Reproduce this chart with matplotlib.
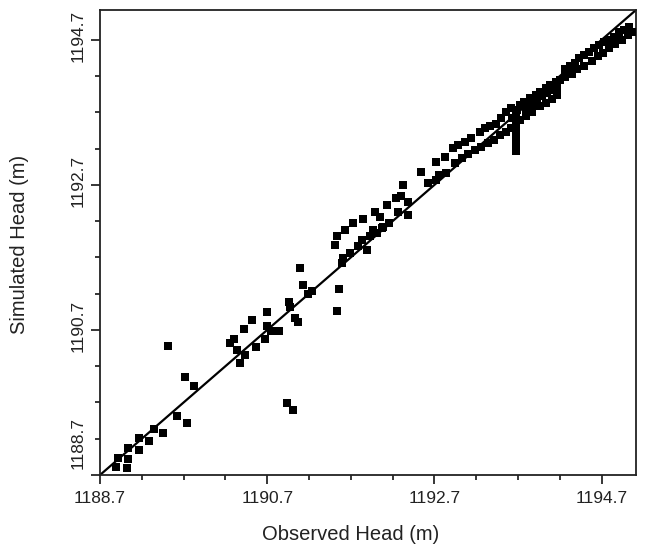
import matplotlib
matplotlib.use("Agg")
import matplotlib.pyplot as plt
import matplotlib.transforms as mtransforms
import numpy as np

plt.rcParams['font.family'] = ['Liberation Sans', 'DejaVu Sans']

# Observed (x) and simulated (y) heads, metres
observed = [
    1188.89, 1189.02, 1188.91, 1189.04, 1189.04, 1189.17, 1189.17, 1189.29,
    1189.35, 1189.45, 1189.62, 1189.74, 1189.51, 1189.72, 1189.83,
    1190.26, 1190.30, 1190.34, 1190.42, 1190.38, 1190.44, 1190.52, 1190.56,
    1190.67, 1190.70, 1190.70, 1190.75, 1190.84, 1190.94, 1191.01,
    1190.96, 1190.97, 1191.03, 1191.07, 1191.09, 1191.13, 1191.19, 1191.24,
    1191.56, 1191.54,
    1191.59, 1191.61, 1191.69, 1191.79, 1191.89, 1191.83, 1191.93, 1191.97,
    1192.01, 1192.08, 1192.16, 1191.51, 1191.53, 1191.63, 1191.73, 1191.85,
    1191.99, 1192.05, 1192.07, 1192.13, 1192.24, 1192.30, 1192.38, 1192.32,
    1192.26, 1192.38, 1192.54, 1192.62, 1192.72, 1192.76, 1192.84, 1192.72,
    1192.82, 1192.92, 1192.94, 1192.98,
    1193.06, 1193.14, 1193.24, 1193.30, 1193.36, 1193.43, 1193.50, 1193.56, 1193.62,
    1193.03, 1193.10, 1193.18, 1193.26, 1193.34, 1193.41, 1193.48, 1193.55, 1193.61,
    1193.68, 1193.68, 1193.68, 1193.68, 1193.68, 1193.68, 1193.68, 1193.68,
    1193.63, 1193.69, 1193.72, 1193.77, 1193.79, 1193.84, 1193.87, 1193.91,
    1193.96, 1193.93, 1193.99, 1194.03, 1194.08, 1194.05, 1194.11, 1194.15,
    1194.20, 1194.17, 1193.72, 1193.80, 1193.87, 1193.96, 1194.03, 1194.10, 1194.16,
    1194.26, 1194.32, 1194.38, 1194.43, 1194.49, 1194.55, 1194.61, 1194.67,
    1194.73, 1194.79, 1194.85, 1194.91, 1194.97, 1195.03,
    1194.26, 1194.34, 1194.41, 1194.49, 1194.58, 1194.65, 1194.72, 1194.79,
    1194.86, 1194.94, 1195.01, 1195.06,
]
simulated = [
    1188.81, 1188.80, 1188.93, 1188.92, 1189.07, 1189.05, 1189.21, 1189.17,
    1189.33, 1189.28, 1189.52, 1189.42, 1190.48, 1190.05, 1189.93,
    1190.52, 1190.58, 1190.43, 1190.71, 1190.25, 1190.35, 1190.83, 1190.47,
    1190.58, 1190.95, 1190.76, 1190.69, 1190.68, 1189.69, 1189.59,
    1191.09, 1191.02, 1190.86, 1190.81, 1191.55, 1191.32, 1191.20, 1191.23,
    1191.27, 1190.96,
    1191.62, 1191.69, 1191.76, 1191.85, 1191.80, 1191.94, 1191.99, 1192.08,
    1192.03, 1192.12, 1192.17, 1191.87, 1191.99, 1192.08, 1192.17, 1192.23,
    1192.33, 1192.26, 1192.10, 1192.42, 1192.52, 1192.54, 1192.47, 1192.70,
    1192.33, 1192.29, 1192.88, 1192.72, 1192.77, 1192.84, 1192.86, 1193.02,
    1193.09, 1193.21, 1193.00, 1193.25,
    1193.29, 1193.35, 1193.43, 1193.49, 1193.51, 1193.54, 1193.62, 1193.71, 1193.76,
    1193.07, 1193.13, 1193.18, 1193.22, 1193.28, 1193.32, 1193.38, 1193.43, 1193.49,
    1193.71, 1193.62, 1193.54, 1193.46, 1193.38, 1193.29, 1193.21, 1193.17,
    1193.62, 1193.73, 1193.80, 1193.84, 1193.73, 1193.90, 1193.82, 1193.94,
    1193.98, 1193.87, 1193.93, 1194.04, 1194.08, 1193.97, 1194.01, 1194.12,
    1194.15, 1194.04, 1193.60, 1193.65, 1193.71, 1193.78, 1193.83, 1193.89, 1193.94,
    1194.29, 1194.34, 1194.38, 1194.45, 1194.49, 1194.53, 1194.59, 1194.63,
    1194.67, 1194.70, 1194.74, 1194.80, 1194.84, 1194.87,
    1194.18, 1194.23, 1194.29, 1194.34, 1194.41, 1194.47, 1194.52, 1194.58,
    1194.64, 1194.70, 1194.77, 1194.81,
]

axis_min = 1188.7
axis_max = 1195.11
major_ticks = [1188.7, 1190.7, 1192.7, 1194.7]
minor_ticks = [1189.2, 1189.7, 1190.2, 1191.2, 1191.7, 1192.2, 1193.2, 1193.7, 1194.2]
tick_labels = ["1188.7", "1190.7", "1192.7", "1194.7"]

fig = plt.figure(figsize=(6.46, 5.47), dpi=100)
ax = fig.add_axes([100 / 646, 1 - 475 / 547, 536 / 646, 465 / 547])

ax.plot([axis_min, axis_max], [axis_min, axis_max], color='black', lw=1.6, zorder=2)
ax.plot(observed, simulated, linestyle='none', marker='s', markersize=5.6,
        color='black', markeredgewidth=0, zorder=3)

ax.set_xlim(axis_min, axis_max)
ax.set_ylim(axis_min, axis_max)
ax.set_xticks(major_ticks)
ax.set_xticklabels(tick_labels)
ax.set_yticks(major_ticks)
ax.set_yticklabels(tick_labels, rotation=90, va='center')
ax.set_xticks(minor_ticks, minor=True)
ax.set_yticks(minor_ticks, minor=True)
ax.tick_params(which='major', direction='out', length=6.3, width=1.1, labelsize=12.5,
               pad=5, colors='black')
ax.tick_params(which='minor', direction='out', length=3.6, width=1.1)
ax.tick_params(axis='x', labelcolor='#222222')
ax.tick_params(axis='y', labelcolor='#222222', pad=4)

for s in ax.spines.values():
    s.set_linewidth(1.3)
    s.set_color('#222222')

# shift rotated y tick labels slightly upward like the reference
for i, lab in enumerate(ax.get_yticklabels()):
    dy = 32 / 100 if i == 0 else 4 / 100
    lab.set_transform(lab.get_transform() + mtransforms.ScaledTranslation(0, dy, fig.dpi_scale_trans))

ax.set_xlabel("Observed Head (m)", fontsize=14.5, color='#222222')
ax.xaxis.set_label_coords(0.468, -0.108)
ax.set_ylabel("Simulated Head (m)", fontsize=14.5, color='#222222')
ax.yaxis.set_label_coords(-0.133, 0.495)

fig.savefig("out.png", dpi=100)
